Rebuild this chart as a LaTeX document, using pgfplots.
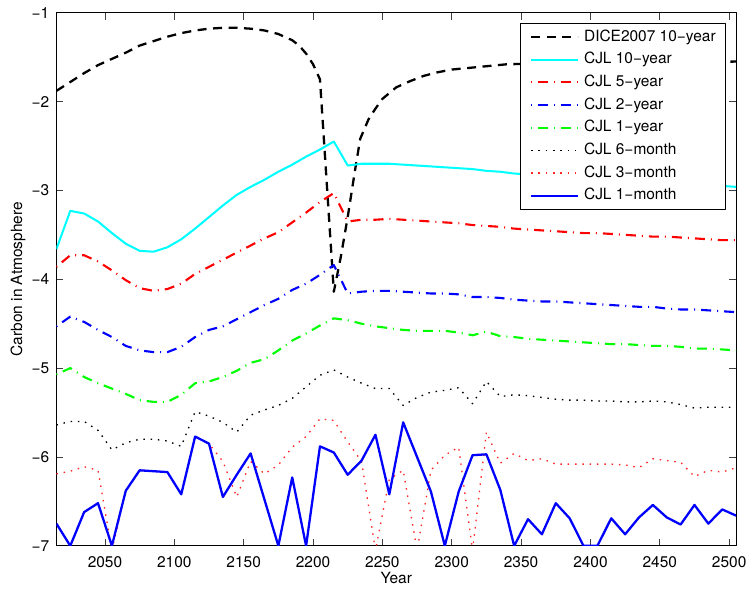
\documentclass[border=0pt]{standalone}
\usepackage{fontspec}
\setmainfont{TeX Gyre Heros}
\usepackage{pgfplots}
\usepackage{pgfplotstable}
\pgfplotsset{compat=1.18}
\definecolor{mcyan}{RGB}{0,255,255}
\definecolor{mgreen}{RGB}{0,255,0}
\definecolor{mred}{RGB}{255,0,0}
\definecolor{mblue}{RGB}{0,0,255}

% year, CJL 10-year, 5-year, 2-year, 1-year, 6-month, 3-month, 1-month
\pgfplotstableread{
year  c10   c5    c2    c1    m6    m3    m1
2015 -3.66 -3.86 -4.53 -5.07 -5.64 -6.19 -6.75
2025 -3.23 -3.73 -4.42 -5.00 -5.60 -6.16 -7.00
2035 -3.26 -3.73 -4.48 -5.10 -5.60 -6.11 -6.62
2045 -3.35 -3.80 -4.57 -5.17 -5.70 -6.15 -6.52
2055 -3.48 -3.90 -4.65 -5.23 -5.92 -7.05 -7.00
2065 -3.60 -4.01 -4.75 -5.29 -5.84 -6.38 -6.38
2075 -3.68 -4.10 -4.80 -5.36 -5.80 -6.15 -6.15
2085 -3.69 -4.13 -4.82 -5.38 -5.80 -6.16 -6.16
2095 -3.64 -4.11 -4.82 -5.38 -5.82 -6.17 -6.17
2105 -3.55 -4.05 -4.76 -5.30 -5.88 -6.42 -6.42
2115 -3.43 -3.94 -4.65 -5.17 -5.49 -5.77 -5.77
2125 -3.30 -3.86 -4.57 -5.15 -5.54 -5.85 -5.85
2135 -3.17 -3.78 -4.53 -5.10 -5.61 -6.05 -6.45
2145 -3.05 -3.70 -4.45 -5.03 -5.72 -6.45 -6.20
2155 -2.96 -3.62 -4.37 -4.94 -5.53 -6.05 -5.96
2165 -2.88 -3.54 -4.29 -4.90 -5.47 -6.19 -6.48
2175 -2.79 -3.47 -4.22 -4.80 -5.42 -6.09 -7.00
2185 -2.71 -3.36 -4.12 -4.69 -5.34 -5.89 -6.23
2195 -2.62 -3.25 -4.05 -4.61 -5.21 -5.77 -7.00
2205 -2.54 -3.13 -3.95 -4.52 -5.08 -5.57 -5.88
2215 -2.45 -3.03 -3.84 -4.44 -5.02 -5.59 -5.95
2225 -2.72 -3.35 -4.16 -4.46 -5.10 -5.83 -6.20
2235 -2.70 -3.33 -4.14 -4.50 -5.17 -6.05 -6.04
2245 -2.70 -3.33 -4.13 -4.53 -5.23 -7.05 -5.75
2255 -2.70 -3.32 -4.13 -4.55 -5.23 -6.25 -6.42
2265 -2.71 -3.33 -4.14 -4.57 -5.42 -6.15 -5.61
2275 -2.72 -3.34 -4.15 -4.58 -5.33 -7.05 -6.00
2285 -2.73 -3.35 -4.16 -4.58 -5.27 -6.15 -6.39
2295 -2.74 -3.36 -4.16 -4.58 -5.25 -5.98 -7.00
2305 -2.75 -3.37 -4.17 -4.60 -5.22 -5.89 -6.39
2315 -2.76 -3.39 -4.20 -4.63 -5.40 -7.05 -5.98
2325 -2.78 -3.40 -4.20 -4.59 -5.15 -5.72 -5.97
2335 -2.79 -3.41 -4.21 -4.64 -5.32 -6.07 -6.37
2345 -2.81 -3.43 -4.23 -4.65 -5.30 -5.96 -7.00
2355 -2.82 -3.44 -4.24 -4.67 -5.31 -6.04 -6.70
2365 -2.83 -3.45 -4.25 -4.68 -5.33 -6.02 -6.87
2375 -2.84 -3.46 -4.25 -4.69 -5.35 -6.08 -6.52
2385 -2.85 -3.47 -4.26 -4.70 -5.36 -6.08 -6.69
2395 -2.86 -3.48 -4.27 -4.71 -5.36 -6.08 -7.00
2405 -2.87 -3.48 -4.28 -4.72 -5.37 -6.08 -7.00
2415 -2.88 -3.49 -4.29 -4.73 -5.37 -6.08 -6.69
2425 -2.89 -3.50 -4.30 -4.73 -5.38 -6.09 -6.87
2435 -2.90 -3.51 -4.31 -4.74 -5.38 -6.12 -6.68
2445 -2.91 -3.52 -4.31 -4.75 -5.37 -6.02 -6.54
2455 -2.92 -3.52 -4.33 -4.75 -5.38 -6.04 -6.68
2465 -2.93 -3.53 -4.34 -4.76 -5.41 -6.06 -6.76
2475 -2.94 -3.54 -4.34 -4.78 -5.45 -6.22 -6.54
2485 -2.95 -3.55 -4.35 -4.78 -5.44 -6.15 -6.75
2495 -2.95 -3.56 -4.36 -4.79 -5.44 -6.17 -6.59
2505 -2.96 -3.56 -4.37 -4.80 -5.44 -6.12 -6.66
}\cjl

\pgfplotstableread{
year  v
2015 -1.88
2025 -1.78
2035 -1.68
2045 -1.59
2055 -1.52
2065 -1.45
2075 -1.37
2085 -1.32
2095 -1.27
2105 -1.23
2115 -1.20
2125 -1.18
2135 -1.17
2145 -1.17
2155 -1.18
2165 -1.20
2175 -1.24
2185 -1.31
2190 -1.37
2195 -1.46
2200 -1.58
2205 -1.75
2215 -4.14
2220 -3.75
2225 -3.30
2230 -2.80
2234 -2.42
2240 -2.20
2245 -2.08
2250 -1.97
2260 -1.84
2270 -1.77
2280 -1.71
2290 -1.67
2300 -1.64
2320 -1.61
2340 -1.58
2380 -1.57
2420 -1.56
2460 -1.56
2505 -1.55
}\dice

\begin{document}
\begin{tikzpicture}[font=\fontsize{8.8}{10.5}\selectfont]
\begin{axis}[
  scale only axis, width=13.59cm, height=10.66cm,
  xmin=2015, xmax=2505, ymin=-7, ymax=-1,
  xtick={2050,2100,...,2500},
  ytick={-7,-6,...,-1},
  yticklabels={−7,−6,−5,−4,−3,−2,−1},
  /pgf/number format/1000 sep={},
  /pgf/number format/assume math mode=true,
  tick align=inside, major tick length=0.14cm,
  tick style={black!75, line width=0.5pt},
  axis line style={line width=0.6pt},
  xticklabel style={yshift=-0.08cm},
  yticklabel style={xshift=-0.02cm},
  xlabel=Year, ylabel=Carbon in Atmosphere,
  xlabel style={at={(axis description cs:0.5,-0.06)}, anchor=center},
  ylabel style={at={(axis description cs:-0.0565,0.5)}, anchor=center},
  legend cell align=left,
  legend style={at={(axis description cs:0.9847,0.9812)}, anchor=north east,
    draw=black, fill=white, inner xsep=5.5pt, inner ysep=3.8pt, row sep=4.6pt,
    nodes={inner sep=0pt, text height=6.5pt, text depth=1.8pt},
    /tikz/every odd column/.append style={column sep=3pt}},
  legend image code/.code={\draw[#1] (0cm,0cm) -- (0.93cm,0cm);},
  no markers, line join=round,
]
\addplot[black, line width=1.3pt, dash pattern=on 0.18cm off 0.13cm] table[y=v] {\dice};
\addlegendentry{DICE2007 10−year}
\addplot[mcyan, line width=1.15pt] table[y=c10] {\cjl};
\addlegendentry{CJL 10−year}
\addplot[mred, line width=1.2pt, dash pattern=on 0.02cm off 0.12cm on 0.2cm off 0.12cm] table[y=c5] {\cjl};
\addlegendentry{CJL 5−year}
\addplot[mblue, line width=1.2pt, dash pattern=on 0.02cm off 0.12cm on 0.2cm off 0.12cm] table[y=c2] {\cjl};
\addlegendentry{CJL 2−year}
\addplot[mgreen, line width=1.2pt, dash pattern=on 0.02cm off 0.12cm on 0.2cm off 0.12cm] table[y=c1] {\cjl};
\addlegendentry{CJL 1−year}
\addplot[black, line width=0.75pt, dash pattern=on 0.03cm off 0.116cm] table[y=m6] {\cjl};
\addlegendentry{CJL 6−month}
\addplot[mred!85, line width=0.75pt, dash pattern=on 0.03cm off 0.116cm] table[y=m3] {\cjl};
\addlegendentry{CJL 3−month}
\addplot[mblue, line width=1.3pt] table[y=m1] {\cjl};
\addlegendentry{CJL 1−month}
\end{axis}
\pgfresetboundingbox
\useasboundingbox (-1.128cm,-0.846cm) rectangle (13.808cm,10.914cm);
\end{tikzpicture}
\end{document}
